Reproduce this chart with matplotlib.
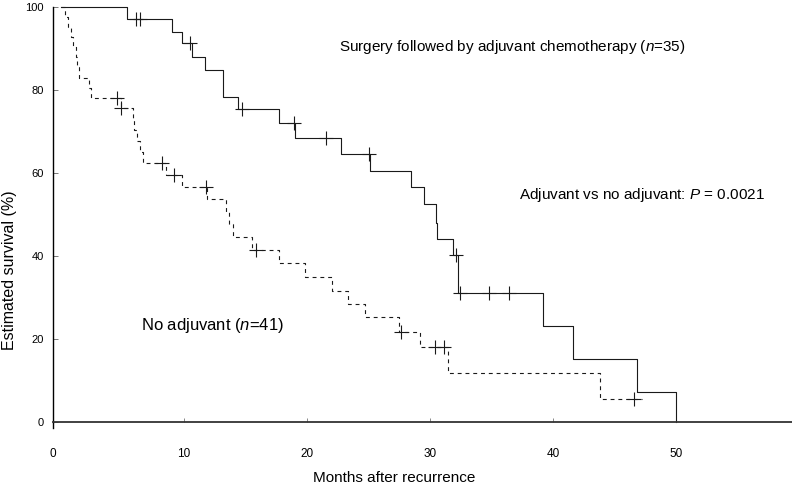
import numpy as np
import matplotlib
matplotlib.use("Agg")
import matplotlib.pyplot as plt
from matplotlib.lines import Line2D

plt.rcParams['font.family'] = ['Liberation Sans', 'DejaVu Sans']
plt.rcParams['mathtext.fontset'] = 'custom'
plt.rcParams['mathtext.rm'] = 'Liberation Sans'
plt.rcParams['mathtext.it'] = 'Liberation Sans:italic'

# Kaplan-Meier curves (months, % surviving after each step)
adj_times = [0, 5.33, 9.04, 9.85, 10.66, 11.7, 13.2, 14.4, 17.7, 19.06, 22.8, 25.15,
             28.45, 29.5, 30.45, 30.6, 31.87, 32.24, 39.2, 41.6, 46.8, 50.0]
adj_surv = [100, 97.1, 94.0, 91.2, 87.8, 84.7, 78.3, 75.3, 72.0, 68.4, 64.5, 60.4,
            56.5, 52.4, 48.0, 44.0, 40.1, 30.9, 23.1, 15.1, 7.1, 0]
adj_censor = [6.06, 6.38, 10.5, 14.75, 18.9, 21.55, 25.0, 32.1, 32.4, 34.8, 36.4]

noadj_times = [0, 0.29, 0.56, 0.78, 1.0, 1.19, 1.32, 1.46, 2.3, 2.45, 4.85, 5.87, 5.95,
               6.2, 6.45, 6.7, 8.5, 9.85, 11.9, 13.4, 13.65, 13.96, 15.5, 17.7, 19.85,
               22.0, 23.35, 24.7, 27.5, 29.2, 31.5, 43.8]
noadj_surv = [100, 97.6, 95.1, 92.7, 90.2, 87.8, 85.4, 82.9, 80.5, 78.0, 75.5, 72.9, 70.3,
              67.7, 65.1, 62.4, 59.4, 56.6, 53.6, 50.6, 47.6, 44.6, 41.4, 38.2, 34.8,
              31.6, 28.4, 25.2, 21.7, 18.1, 11.8, 5.4]
noadj_censor = [4.57, 4.9, 8.2, 9.17, 11.75, 15.85, 27.6, 30.4, 31.1, 46.6]
noadj_end = 47.2

xtick_vals = [10, 20, 30, 40, 50]
ytick_vals = [0, 20, 40, 60, 80, 100]


def level_at(times, surv, t):
    idx = np.searchsorted(times, t, side='right') - 1
    return np.asarray(surv)[idx]


fig = plt.figure(figsize=(7.92, 4.86), dpi=100)
ax = fig.add_axes([0.0673, 0.1323, 0.9327, 0.8539])

col = '#1a1a1a'
ax.step(adj_times, adj_surv, where='post', color=col, lw=0.8, clip_on=False)
ax.plot(adj_censor, level_at(adj_times, adj_surv, adj_censor), ls='none', marker='+',
        ms=10, mew=0.8, color=col, clip_on=False)

ax.step(noadj_times + [noadj_end], noadj_surv + [noadj_surv[-1]], where='post',
        color=col, lw=0.8, ls=(0, (3.5, 3.5)), clip_on=False)
ax.plot(noadj_censor, level_at(noadj_times, noadj_surv, noadj_censor), ls='none',
        marker='+', ms=10, mew=0.8, color=col, clip_on=False)

xl = -0.63
ax.set_xlim(xl, 59.43)
ax.set_ylim(0, 100)

for s in ['top', 'right']:
    ax.spines[s].set_visible(False)
ax.spines['left'].set_linewidth(1.0)
ax.spines['bottom'].set_linewidth(1.3)
ax.spines['bottom'].set_color('#333333')
# left axis runs slightly below the x axis
ax.add_line(Line2D([0, 0], [0, -0.015], transform=ax.transAxes, color='black',
                   lw=1.0, clip_on=False))

ax.set_xticks([xl] + xtick_vals)
ax.set_xticklabels(['0'] + [str(v) for v in xtick_vals])
ax.set_yticks(ytick_vals)
ax.set_yticks([0, 100], minor=True)
ax.tick_params(axis='x', which='major', direction='in', length=3, width=0.7,
               color='#888888', labelsize=8.5, pad=19)
ax.tick_params(axis='y', which='major', direction='in', length=3.5, width=0.7,
               color='#777777', labelsize=8, pad=7)
ax.tick_params(axis='y', which='minor', direction='out', length=4.5, width=0.9,
               color='black')

fig.text(394 / 792, 1 - 478 / 486, 'Months after recurrence', ha='center', va='center',
         fontsize=11)
fig.text(10 / 792, 1 - 270 / 486, 'Estimated survival (%)', ha='center', va='center',
         rotation=90, fontsize=11.5)

ax.text(22.6, 90.4, 'Surgery followed by adjuvant chemotherapy ($n$=35)', ha='left',
        va='center', fontsize=11)
ax.text(37.2, 54.6, 'Adjuvant vs no adjuvant: $P$ = 0.0021', ha='left', va='center',
        fontsize=11)
ax.text(6.48, 23.3, 'No adjuvant ($n$=41)', ha='left', va='center', fontsize=12)

fig.savefig('out.png', dpi=100)
